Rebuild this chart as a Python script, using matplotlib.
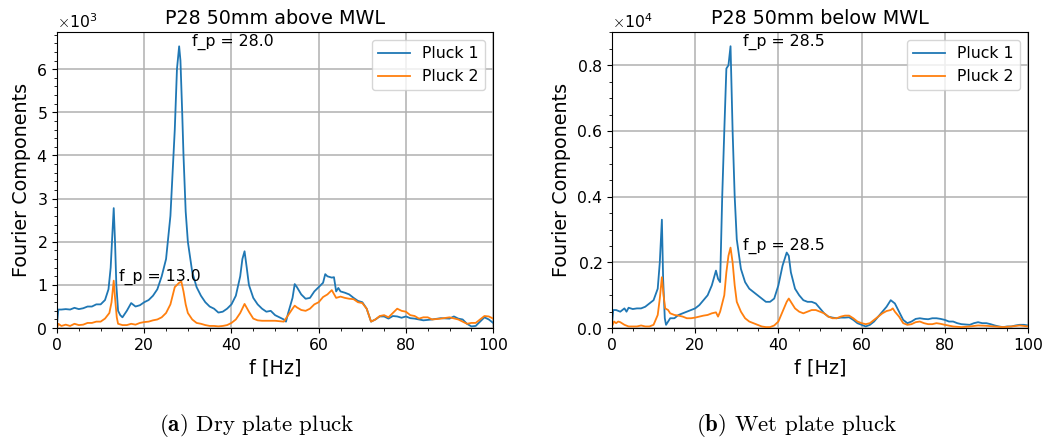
import matplotlib
matplotlib.use('Agg')
import matplotlib.pyplot as plt
from matplotlib.ticker import ScalarFormatter, MultipleLocator, AutoMinorLocator

plt.rcParams['mathtext.fontset'] = 'cm'

# dry plate (above MWL), values in units of 1
f_dry1 = [0, 0.3, 1, 2, 3, 4, 5, 6, 7, 8, 9, 10, 11, 11.8, 12.3, 12.7, 13, 13.3, 13.6, 14, 14.5, 15, 16, 17, 18, 19, 20,
          21, 22, 23, 24, 25, 26, 27, 27.5, 28, 28.3, 28.7, 29, 29.5, 30, 31, 32, 33, 34, 35, 36, 37, 38, 39, 40,
          41, 42, 42.5, 43, 43.5, 44, 45, 46, 47, 48, 49, 50, 51, 52, 52.5, 53, 54, 54.5, 55, 56, 57, 58, 59, 60,
          61, 61.5, 62, 63, 63.5, 64, 64.5, 65, 66, 67, 68, 69, 70, 71, 72, 73, 74, 75, 76, 77, 78, 79, 80,
          81, 82, 84, 86, 88, 90, 91, 92, 93, 94, 95, 96, 97, 98, 99, 100]
p_dry1 = [100, 430, 430, 440, 430, 470, 440, 460, 500, 500, 550, 550, 650, 900, 1400, 2200, 2780, 2000, 1000, 400, 300, 250, 400, 580, 500, 530, 600,
          650, 750, 900, 1200, 1600, 2600, 4600, 6000, 6530, 6200, 5000, 4000, 2700, 2000, 1300, 950, 750, 600, 500, 450, 360, 380, 450, 550,
          750, 1200, 1600, 1780, 1400, 1000, 700, 550, 450, 380, 400, 300, 250, 200, 150, 350, 700, 1020, 950, 780, 680, 700, 850, 950,
          1050, 1250, 1200, 1170, 1180, 850, 930, 850, 820, 780, 700, 630, 600, 450, 150, 200, 270, 270, 220, 280, 270, 240, 270,
          230, 220, 180, 200, 230, 220, 270, 220, 200, 100, 40, 50, 150, 250, 200, 120]

f_dry2 = [0, 0.3, 1, 2, 3, 4, 5, 6, 7, 8, 9, 10, 11, 12, 12.5, 13, 13.3, 13.7, 14, 15, 16, 17, 18, 19, 20,
          21, 22, 23, 24, 25, 26, 27, 27.5, 28, 28.5, 29, 29.5, 30, 31, 32, 33, 34, 35, 36, 37, 38, 39, 40,
          41, 42, 43, 44, 45, 46, 47, 48, 49, 50, 52, 53, 54, 54.5, 55, 56, 57, 58, 59, 60,
          61, 62, 63, 64, 65, 66, 67, 68, 69, 70, 71, 72, 73, 74, 75, 76, 77, 78, 79, 80,
          81, 82, 83, 84, 85, 86, 88, 90, 92, 93, 94, 95, 96, 97, 98, 99, 100]
p_dry2 = [0, 100, 50, 80, 50, 100, 70, 80, 120, 120, 150, 150, 220, 350, 600, 1100, 700, 250, 100, 70, 70, 100, 80, 120, 140,
          150, 180, 200, 250, 350, 550, 950, 1000, 1050, 1080, 850, 550, 350, 200, 120, 100, 70, 50, 50, 40, 50, 70, 120,
          200, 350, 560, 380, 220, 180, 170, 170, 170, 170, 150, 300, 450, 520, 480, 420, 400, 450, 550, 600,
          720, 780, 880, 700, 730, 700, 680, 670, 600, 580, 450, 150, 200, 280, 300, 250, 350, 450, 400, 380,
          300, 280, 220, 250, 250, 200, 220, 250, 200, 150, 100, 120, 120, 200, 280, 270, 220]

# wet plate (below MWL)
f_wet1 = [0, 0.3, 1, 2, 3, 3.5, 4, 5, 6, 7, 8, 9, 10, 11, 11.5, 12, 12.3, 12.7, 13, 14, 15, 16, 17, 18, 19, 20,
          21, 22, 23, 24, 25, 25.5, 26, 26.5, 27, 27.5, 28, 28.5, 29, 29.5, 30, 31, 32, 33, 34, 35, 36, 37, 38, 39, 40,
          41, 42, 42.5, 43, 44, 45, 46, 47, 48, 49, 50, 51, 52, 53, 54, 55, 56, 57, 58, 59, 60,
          61, 62, 63, 64, 65, 66, 67, 68, 69, 70, 71, 72, 73, 74, 75, 76, 77, 78, 79, 80,
          81, 82, 83, 84, 86, 87, 88, 89, 90, 91, 92, 93, 94, 95, 96, 97, 98, 99, 100]
p_wet1 = [100, 550, 550, 500, 600, 500, 620, 580, 600, 600, 650, 750, 850, 1200, 2000, 3300, 1500, 300, 100, 300, 300, 400, 450, 500, 550, 600,
          700, 850, 1000, 1300, 1750, 1500, 1400, 4000, 6000, 7900, 8000, 8580, 6000, 4000, 2700, 1800, 1400, 1200, 1100, 1000, 900, 800, 800, 900, 1300,
          1900, 2300, 2200, 1700, 1200, 1000, 850, 800, 800, 750, 600, 450, 350, 320, 300, 320, 320, 330, 250, 150, 100,
          50, 100, 200, 350, 500, 650, 850, 750, 500, 250, 150, 200, 280, 300, 280, 270, 300, 300, 280, 250,
          200, 200, 150, 120, 100, 150, 180, 150, 150, 120, 80, 50, 30, 50, 50, 80, 100, 100, 80]

f_wet2 = [0, 0.5, 1, 1.5, 2, 3, 4, 5, 6, 7, 8, 9, 10, 11, 11.5, 12, 12.4, 12.8, 13.5, 14, 15, 16, 17, 18, 19, 20,
          21, 22, 23, 24, 25, 25.5, 26, 27, 27.5, 28, 28.5, 29, 29.5, 30, 31, 32, 33, 34, 35, 36, 37, 38, 39, 40,
          41, 42, 42.5, 43, 44, 45, 46, 47, 48, 49, 50, 51, 52, 53, 54, 55, 56, 57, 58, 59, 60,
          61, 62, 63, 64, 65, 66, 67, 67.5, 68, 69, 70, 71, 72, 73, 74, 75, 76, 77, 78, 79, 80,
          82, 84, 86, 88, 90, 92, 94, 96, 98, 100]
p_wet2 = [50, 200, 150, 200, 180, 100, 50, 50, 50, 80, 50, 50, 100, 400, 900, 1550, 1000, 600, 550, 450, 400, 380, 350, 300, 300, 320,
          350, 380, 400, 450, 480, 350, 500, 1000, 1700, 2200, 2450, 2000, 1300, 800, 500, 300, 200, 150, 100, 50, 30, 30, 80, 200,
          500, 800, 900, 800, 600, 500, 450, 500, 550, 550, 500, 450, 350, 300, 300, 350, 380, 380, 300, 200, 150,
          120, 150, 250, 350, 450, 520, 550, 600, 500, 350, 150, 100, 120, 180, 200, 150, 120, 120, 150, 130, 100,
          50, 30, 50, 80, 70, 50, 30, 50, 80, 50]

panels = [
    (f_dry1, p_dry1, f_dry2, p_dry2, 'P28 50mm above MWL', 3,
     [(31.0, 6530, 'f_p = 28.0'), (14.2, 1100, 'f_p = 13.0')], r'$\mathbf{(a)}$ Dry plate pluck'),
    (f_wet1, p_wet1, f_wet2, p_wet2, 'P28 50mm below MWL', 4,
     [(31.5, 8580, 'f_p = 28.5'), (31.5, 2390, 'f_p = 28.5')], r'$\mathbf{(b)}$ Wet plate pluck'),
]
rects = [[0.054, 0.256, 0.413, 0.671], [0.5795, 0.256, 0.394, 0.671]]
cap_x = [0.243, 0.754]

fig = plt.figure(figsize=(10.56, 4.41), dpi=100)
for (fa, pa, fb, pb, title, power, notes, cap), rect, cx in zip(panels, rects, cap_x):
    ax = fig.add_axes(rect)
    ax.plot(fa, pa, color='C0', linewidth=1.3, label='Pluck 1')
    ax.plot(fb, pb, color='C1', linewidth=1.3, label='Pluck 2')
    for x, y, s in notes:
        ax.text(x, y, s, fontsize=11.3)
    ax.set_xlim(0, 100)
    ax.set_ylim(bottom=0)
    fmt = ScalarFormatter(useMathText=True)
    fmt.set_powerlimits((power, power))
    ax.yaxis.set_major_formatter(fmt)
    ax.yaxis.get_offset_text().set_fontsize(11.3)
    ax.xaxis.set_minor_locator(MultipleLocator(5))
    ax.yaxis.set_minor_locator(AutoMinorLocator())
    ax.tick_params(labelsize=11.3)
    ax.grid(True, which='major', color='#b0b0b0', linewidth=1.1)
    ax.set_title(title, fontsize=13.8)
    ax.set_xlabel('f [Hz]', fontsize=13.8)
    ax.set_ylabel('Fourier Components', fontsize=13.8)
    ax.legend(loc='upper right', fontsize=11.3)
    fig.text(cx, 0.035, cap, family='cmr10', fontsize=16.5, ha='center', va='center')

fig.savefig('out.png', facecolor='w', edgecolor='w')
